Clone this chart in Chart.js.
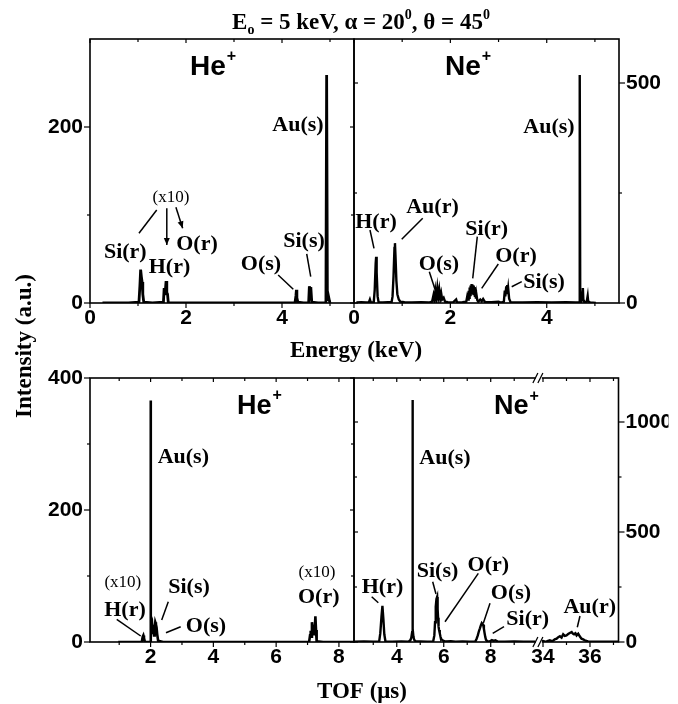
<!DOCTYPE html>
<html><head><meta charset="utf-8">
<script src="https://cdn.jsdelivr.net/npm/chart.js@4.4.1/dist/chart.umd.min.js"></script>
<style>
html,body{margin:0;padding:0;background:#fff;}
#wrap{position:relative;width:678px;height:704px;overflow:hidden;}
canvas{position:absolute;left:0;top:0;}
</style></head><body>
<div id="wrap">
<canvas id="c1" width="678" height="704"></canvas>
<canvas id="c2" width="678" height="704"></canvas>
<canvas id="c3" width="678" height="704"></canvas>
<canvas id="c4" width="678" height="704"></canvas>
</div>
<script>
// ---------------- DATA ----------------
// He+ energy spectrum [keV, intensity]
const heEnergySpectrum = [[0.26,0],[0.5,0],[0.8,0],[1.02,1],[1.04,20],[1.055,38],[1.07,30],[1.085,24],[1.10,10],[1.12,1],[1.3,0],[1.53,1],[1.545,17],[1.555,9],[1.57,14],[1.585,25],[1.60,12],[1.615,10],[1.63,1],[1.645,0],[2.0,0],[2.5,0],[3.0,0],[3.5,0],[4.0,0],[4.27,0],[4.29,8],[4.30,15],[4.31,6],[4.33,1],[4.45,0],[4.555,0],[4.57,19],[4.585,12],[4.60,18],[4.62,1],[4.75,0],[4.915,0],[4.93,259],[4.945,12],[4.96,4],[4.975,6],[4.99,2],[5.0,0]];
// Ne+ energy spectrum [keV, intensity]
const neEnergySpectrum = [[0.05,1],[0.15,2],[0.25,1],[0.31,2],[0.33,8],[0.35,1],[0.41,2],[0.43,30],[0.45,90],[0.46,105],[0.47,70],[0.49,15],[0.51,2],[0.6,1],[0.7,2],[0.78,2],[0.80,15],[0.82,60],[0.84,125],[0.85,136],[0.86,110],[0.88,50],[0.90,20],[0.93,8],[0.96,3],[1.05,2],[1.2,1],[1.4,2],[1.55,1],[1.62,3],[1.65,18],[1.67,6],[1.69,28],[1.71,12],[1.73,34],[1.75,14],[1.77,30],[1.79,10],[1.81,22],[1.83,8],[1.86,12],[1.89,3],[1.95,2],[2.05,1],[2.12,8],[2.14,1],[2.25,2],[2.33,3],[2.35,15],[2.37,8],[2.38,28],[2.39,12],[2.40,35],[2.41,18],[2.42,40],[2.43,22],[2.44,43],[2.45,25],[2.46,42],[2.47,28],[2.48,40],[2.49,18],[2.50,36],[2.51,14],[2.52,30],[2.53,10],[2.54,20],[2.56,6],[2.58,3],[2.62,8],[2.65,4],[2.68,9],[2.72,2],[2.85,2],[3.0,3],[3.05,1],[3.11,3],[3.13,28],[3.14,15],[3.16,38],[3.17,20],[3.18,41],[3.19,24],[3.20,33],[3.22,10],[3.25,2],[3.5,1],[3.8,2],[4.1,1],[4.4,2],[4.6,1],[4.675,2],[4.685,518],[4.695,30],[4.72,5],[4.74,15],[4.75,34],[4.76,8],[4.78,2],[4.83,3],[4.85,16],[4.86,4],[4.9,1],[5.02,0]];
// He+ TOF spectrum [us, intensity]
const heTofSpectrum = [[0.97,0],[1.3,0],[1.72,0],[1.75,8],[1.77,10],[1.79,6],[1.82,0],[1.99,0],[2.0,366],[2.012,40],[2.03,22],[2.05,26],[2.07,12],[2.09,24],[2.11,10],[2.13,20],[2.15,30],[2.17,27],[2.19,22],[2.21,12],[2.24,2],[2.4,0],[3,0],[4,0],[5,0],[6,0],[7.05,0],[7.08,10],[7.10,17],[7.12,8],[7.14,30],[7.16,22],[7.18,12],[7.20,25],[7.22,10],[7.25,39],[7.27,18],[7.29,1],[7.5,0],[8.5,0]];
// Ne+ TOF spectrum [us, intensity] (before and after the axis break)
const neTofSpectrumLow = [[2.2,1],[2.6,2],[3.0,1],[3.25,1],[3.30,40],[3.35,115],[3.39,164],[3.43,105],[3.47,35],[3.52,2],[3.8,1],[4.2,2],[4.5,1],[4.58,8],[4.62,20],[4.655,45],[4.67,1100],[4.685,60],[4.71,25],[4.74,10],[4.8,3],[5.0,2],[5.3,1],[5.55,2],[5.60,30],[5.63,90],[5.66,160],[5.69,195],[5.72,205],[5.74,150],[5.76,110],[5.78,70],[5.80,55],[5.83,40],[5.86,25],[5.9,12],[5.95,8],[6.0,5],[6.1,2],[6.3,4],[6.5,1],[6.8,2],[7.1,1],[7.35,3],[7.40,15],[7.45,30],[7.50,50],[7.54,62],[7.58,75],[7.62,86],[7.65,82],[7.68,78],[7.71,60],[7.74,40],[7.77,22],[7.80,10],[7.85,4],[7.95,2],[8.05,9],[8.12,5],[8.2,8],[8.3,2],[8.6,1],[9.0,2],[9.4,1],[9.9,1]];
const neTofSpectrumHigh = [[33.9,2],[34.0,5],[34.1,2],[34.15,3],[34.29,8],[34.36,4],[34.43,6],[34.5,12],[34.58,15],[34.65,22],[34.72,26],[34.79,20],[34.86,35],[34.93,28],[35.0,30],[35.07,36],[35.14,41],[35.22,45],[35.27,38],[35.32,35],[35.38,40],[35.43,30],[35.5,38],[35.57,25],[35.64,15],[35.71,12],[35.78,8],[35.85,5],[35.92,3],[36.07,1],[36.5,1],[37.2,1]];

// Tick values
const energyMajor = [0,2,4], energyMinor = [1,3,5];
const heEnergyYMajor = [0,200], heEnergyYMinor = [100];
const neEnergyYMajor = [0,500], neEnergyYMinor = [250];
const heTofMajor = [2,4,6,8], heTofMinor = [1,3,5,7];
const heTofYMajor = [0,200,400], heTofYMinor = [100,300];
const neTofMajor = [4,6,8,34,36], neTofMinor = [3,5,7,9,35,37];
const neTofYMajor = [0,500,1000], neTofYMinor = [250,750];

// axis break for Ne+ TOF
const BREAK_START = 10.0, BREAK_END = 33.774;
const tofShift = BREAK_END - BREAK_START;
const compress = t => t > BREAK_START ? t - tofShift : t;
const expand = v => v > BREAK_START + 0.05 ? v + tofShift : v;

// ---------------- PLUGINS ----------------
const SERIF = "'Liberation Serif', 'Times New Roman', serif";
const SANS = "'Liberation Sans', Arial, sans-serif";

function arrowLine(ctx, x1, y1, x2, y2, head) {
  ctx.beginPath(); ctx.moveTo(x1, y1); ctx.lineTo(x2, y2); ctx.stroke();
  if (head) {
    const ang = Math.atan2(y2 - y1, x2 - x1), L = 7, W = 3;
    ctx.beginPath();
    ctx.moveTo(x2, y2);
    ctx.lineTo(x2 - L*Math.cos(ang) + W*Math.sin(ang), y2 - L*Math.sin(ang) - W*Math.cos(ang));
    ctx.lineTo(x2 - L*Math.cos(ang) - W*Math.sin(ang), y2 - L*Math.sin(ang) + W*Math.cos(ang));
    ctx.closePath(); ctx.fill();
  }
}

const decor = {
  id: 'decor',
  afterDatasetsDraw(chart, args, o) {
    const ctx = chart.ctx, a = chart.chartArea, xs = chart.scales.x, ys = chart.scales.y;
    ctx.save();
    ctx.strokeStyle = '#000'; ctx.fillStyle = '#000';
    const seg = (x1,y1,x2,y2) => { ctx.beginPath(); ctx.moveTo(x1,y1); ctx.lineTo(x2,y2); ctx.stroke(); };
    ctx.lineWidth = 1.2;
    const xp = v => xs.getPixelForValue(o.xMap ? o.xMap(v) : v);
    o.xMajor.forEach(v => { const p = xp(v); seg(p, a.bottom, p, a.bottom + 5); seg(p, a.top, p, a.top + 4); });
    o.xMinor.forEach(v => { const p = xp(v); seg(p, a.bottom, p, a.bottom + 3); seg(p, a.top, p, a.top + 3); });
    const left = o.ySide === 'left';
    const yOut = left ? a.left : a.right, yIn = left ? a.right : a.left, d = left ? -1 : 1;
    o.yMajor.forEach(v => { const p = ys.getPixelForValue(v); seg(yOut, p, yOut + d*6, p); seg(yIn, p, yIn + d*4, p); });
    o.yMinor.forEach(v => { const p = ys.getPixelForValue(v); seg(yOut, p, yOut + d*3, p); seg(yIn, p, yIn + d*3, p); });
    ctx.lineWidth = 1.6;
    ctx.strokeRect(a.left, a.top, a.right - a.left, a.bottom - a.top);
    // axis break marks
    if (o.breakAt !== undefined) {
      const p = xs.getPixelForValue(o.breakAt);
      [a.bottom, a.top].forEach(yy => {
        ctx.fillStyle = '#fff'; ctx.fillRect(p - 3, yy - 2, 6, 4);
        ctx.fillStyle = '#000'; ctx.lineWidth = 1.3;
        seg(p - 6, yy + 5, p - 1, yy - 5);
        seg(p - 1, yy + 5, p + 4, yy - 5);
      });
    }
    // leader lines
    ctx.lineWidth = 1.5; ctx.fillStyle = '#000';
    (o.lines || []).forEach(l => arrowLine(ctx, xs.getPixelForValue(l[0]), ys.getPixelForValue(l[1]), xs.getPixelForValue(l[2]), ys.getPixelForValue(l[3]), l[4]));
    // peak labels
    ctx.textAlign = 'center'; ctx.textBaseline = 'alphabetic';
    (o.labels || []).forEach(t => {
      ctx.font = t[3] === 'r' ? `17px ${SERIF}` : `bold 22px ${SERIF}`;
      ctx.fillText(t[0], xs.getPixelForValue(t[1]), ys.getPixelForValue(t[2]));
    });
    // ion label
    if (o.ion) {
      const px = xs.getPixelForValue(o.ion[1]), py = ys.getPixelForValue(o.ion[2]);
      ctx.textAlign = 'left';
      ctx.font = `bold ${o.ion[3]}px ${SANS}`;
      ctx.fillText(o.ion[0], px, py);
      const w = ctx.measureText(o.ion[0]).width;
      ctx.font = `bold ${Math.round(o.ion[3]*0.58)}px ${SANS}`;
      ctx.fillText('+', px + w + 1, py - o.ion[3]*0.5);
    }
    ctx.restore();
  }
};

const pageText = {
  id: 'pageText',
  afterDraw(chart) {
    const ctx = chart.ctx;
    ctx.save(); ctx.fillStyle = '#000'; ctx.textBaseline = 'alphabetic';
    // title with sub/superscripts
    const parts = [['E', 0, 23], ['o', 5, 14], [' = 5 keV, \u03B1 = 20', 0, 23], ['0', -10, 14], [', \u03B8 = 45', 0, 23], ['0', -10, 14]];
    let total = 0;
    parts.forEach(p => { ctx.font = `bold ${p[2]}px ${SERIF}`; total += ctx.measureText(p[0]).width; });
    let x = 361 - total/2; const by = 29;
    ctx.textAlign = 'left';
    parts.forEach(p => { ctx.font = `bold ${p[2]}px ${SERIF}`; ctx.fillText(p[0], x, by + p[1]); x += ctx.measureText(p[0]).width; });
    // axis titles
    ctx.textAlign = 'center';
    ctx.font = `bold 23px ${SERIF}`;
    ctx.fillText('Energy (keV)', 356, 357);
    ctx.fillText('TOF (\u03BCs)', 362, 698);
    ctx.translate(31, 346); ctx.rotate(-Math.PI/2);
    ctx.fillText('Intensity (a.u.)', 0, 0);
    ctx.restore();
  }
};

// ---------------- CHARTS ----------------
function makePanel(id, c) {
  const tickFont = { family: SANS, weight: 'bold', size: 21 };
  return new Chart(document.getElementById(id), {
    type: 'scatter',
    data: { datasets: [{ data: c.points, showLine: true, borderColor: '#000', borderWidth: c.lw, pointRadius: 0, tension: 0, spanGaps: false, fill: false }] },
    options: {
      responsive: false, animation: false, devicePixelRatio: 1,
      layout: { padding: c.pad },
      plugins: { legend: { display: false }, tooltip: { enabled: false }, decor: c.decor },
      scales: {
        x: {
          type: 'linear', position: 'bottom', min: c.xMin, max: c.xMax,
          grid: { display: false, drawTicks: false }, border: { display: false },
          afterBuildTicks: s => { s.ticks = c.xLabels.map(v => ({ value: v })); },
          afterFit: s => { s.height = 40; },
          ticks: { autoSkip: false, maxRotation: 0, minRotation: 0, padding: 3, color: '#000', font: tickFont, callback: c.xCb || (v => String(v)) }
        },
        y: {
          type: 'linear', position: c.ySide, min: 0, max: c.yMax,
          grid: { display: false, drawTicks: false }, border: { display: false },
          afterBuildTicks: s => { s.ticks = c.yLabels.map(v => ({ value: v })); },
          afterFit: s => { s.width = 50; },
          ticks: { autoSkip: false, padding: 7, color: '#000', font: tickFont, callback: v => String(v) }
        }
      }
    },
    plugins: c.extra ? [decor, c.extra] : [decor]
  });
}

const toXY = arr => arr.map(p => ({ x: p[0], y: p[1] }));

makePanel('c1', {
  points: toXY(heEnergySpectrum), lw: 2.8,
  pad: { left: 40, right: 324, top: 39, bottom: 361 },
  xMin: 0, xMax: 5.5, yMax: 300, ySide: 'left',
  xLabels: energyMajor, yLabels: heEnergyYMajor, extra: pageText,
  decor: {
    xMajor: energyMajor, xMinor: energyMinor, yMajor: heEnergyYMajor, yMinor: heEnergyYMinor, ySide: 'left',
    labels: [['(x10)',1.688,114.8,'r'],['Si(r)',0.735,50.8],['H(r)',1.656,33.75],['O(r)',2.229,60.2],['O(s)',3.5625,37.5],['Si(s)',4.458,63.3],['Au(s)',4.333,195.8]],
    lines: [[1.39,105.7,1.02,79.2,0],[1.60,107.6,1.60,65.9,1],[1.79,108.8,1.93,84.9,1],[3.92,31.8,4.235,15.6,0],[4.515,55.7,4.598,29.9,0]],
    ion: ['He', 2.083, 259.1, 28]
  }
});

makePanel('c2', {
  points: toXY(neEnergySpectrum), lw: 2.4,
  pad: { left: 354, right: 9, top: 39, bottom: 361 },
  xMin: 0, xMax: 5.5, yMax: 600, ySide: 'right',
  xLabels: energyMajor, yLabels: neEnergyYMajor,
  decor: {
    xMajor: energyMajor, xMinor: energyMinor, yMajor: neEnergyYMajor, yMinor: neEnergyYMinor, ySide: 'right',
    labels: [['H(r)',0.457,169.8],['Au(r)',1.629,203.9],['O(s)',1.764,75],['Si(r)',2.754,154.5],['O(r)',3.362,93.9],['Si(s)',3.944,33.4],['Au(s)',4.047,387]],
    lines: [[0.332,165.9,0.415,124.3,0],[1.426,192.5,0.99,144.8,0],[1.563,71.1,1.681,31.1,0],[2.559,150.7,2.464,56.1,0],[2.995,88.6,2.65,33.4,0],[3.481,48.4,3.273,37,0]],
    ion: ['Ne', 1.89, 518.2, 28]
  }
});

makePanel('c3', {
  points: toXY(heTofSpectrum), lw: 2.6,
  pad: { left: 40, right: 324, top: 378, bottom: 22 },
  xMin: 0.07, xMax: 8.48, yMax: 400, ySide: 'left',
  xLabels: heTofMajor, yLabels: heTofYMajor,
  decor: {
    xMajor: heTofMajor, xMinor: heTofMinor, yMajor: heTofYMajor, yMinor: heTofYMinor, ySide: 'left',
    labels: [['Au(s)',3.042,270.8],['(x10)',1.115,83.8,'r'],['H(r)',1.185,39.4],['Si(s)',3.224,73.8],['O(s)',3.765,15.6],['(x10)',7.302,98.9,'r'],['O(r)',7.356,58.6]],
    lines: [[0.921,34.4,1.685,9.1,0],[2.564,61.1,2.354,33.3,0],[2.959,23.2,2.491,14.1,0]],
    ion: ['He', 4.753, 345.5, 27]
  }
});

const neTofPoints = toXY(neTofSpectrumLow).concat([{ x: BREAK_START + 0.05, y: null }],
  neTofSpectrumHigh.map(p => ({ x: compress(p[0]), y: p[1] })));

makePanel('c4', {
  points: neTofPoints, lw: 2.4,
  pad: { left: 354, right: 9.5, top: 378, bottom: 22 },
  xMin: 2.18, xMax: 13.44, yMax: 1200, ySide: 'right',
  xLabels: neTofMajor.map(compress), yLabels: neTofYMajor,
  xCb: v => String(Math.round(expand(v))),
  decor: {
    xMajor: neTofMajor, xMinor: neTofMinor, xMap: compress, yMajor: neTofYMajor, yMinor: neTofYMinor, ySide: 'right',
    breakAt: BREAK_START + 0.05,
    labels: [['Au(s)',6.054,809],['H(r)',3.393,221],['Si(s)',5.735,294],['O(r)',7.897,324],['O(s)',8.864,194],['Si(r)',9.575,77],['Au(r)',12.214,130]],
    lines: [[2.934,206,3.214,178.6,0],[5.53,274,5.67,218,0],[7.472,312,6.054,92,0],[7.97,176,7.685,85,0],[8.566,69.5,8.085,39.5,0],[11.8,118,11.686,67,0]],
    ion: ['Ne', 8.14, 1036, 27]
  }
});
</script>
</body></html>
